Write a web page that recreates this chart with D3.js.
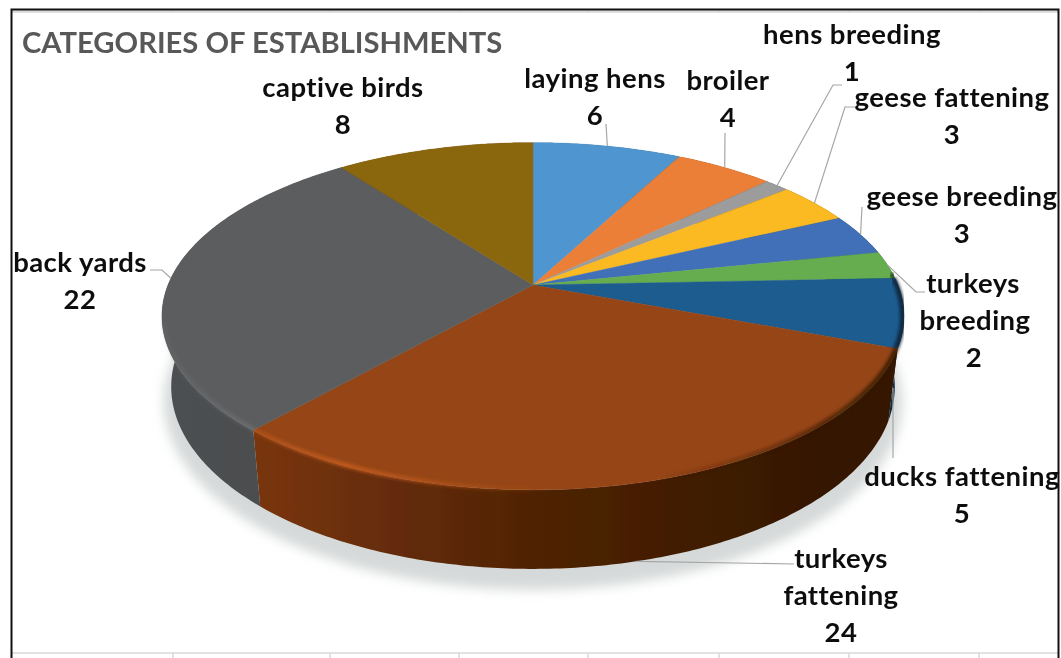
<!DOCTYPE html>
<html>
<head>
<meta charset="utf-8">
<script src="https://cdn.jsdelivr.net/npm/d3@7.9.0/dist/d3.min.js"></script>
<style>
  html, body { margin: 0; padding: 0; background: #fff; }
  svg { display: block; }
  text { font-family: Lato, "Open Sans", sans-serif; font-weight: 700; }
</style>
</head>
<body>
<svg id="chart" width="1061" height="658"></svg>
<script>
const categories = ['laying hens', 'broiler', 'hens breeding', 'geese fattening', 'geese breeding',
  'turkeys breeding', 'ducks fattening', 'turkeys fattening', 'back yards', 'captive birds'];
const counts = [6, 4, 1, 3, 3, 2, 5, 24, 22, 8];
const sliceColors = ['#5096d0', '#eb7f38', '#9c9c9c', '#fbb922', '#4270b8',
  '#66ad50', '#1d5c8e', '#954515', '#5c5d5f', '#8a660f'];
const wallColors = ['#5096d0', '#eb7f38', '#9c9c9c', '#fbb922', '#4270b8',
  '#66ad50', '#2a74b0', '#92400a', '#5a5e60', '#8a660f'];
const titleText = 'CATEGORIES OF ESTABLISHMENTS';
const cellEdges = [173, 330, 459, 588, 719, 849, 979];

// where the labels sit, by category
const labelLayout = {
  'laying hens': { lines: [[595, 'laying hens'], [595, '6']], y: 79 },
  'broiler': { lines: [[728, 'broiler'], [728, '4']], y: 81 },
  'hens breeding': { lines: [[852, 'hens breeding'], [852, '1']], y: 35 },
  'geese fattening': { lines: [[952, 'geese fattening'], [952, '3']], y: 98 },
  'geese breeding': { lines: [[962, 'geese breeding'], [962, '3']], y: 197 },
  'turkeys breeding': { lines: [[973, 'turkeys'], [975, 'breeding'], [974, '2']], y: 284 },
  'ducks fattening': { lines: [[962, 'ducks fattening'], [962, '5']], y: 477 },
  'turkeys fattening': { lines: [[841, 'turkeys'], [841, 'fattening'], [841, '24']], y: 559 },
  'back yards': { lines: [[80, 'back yards'], [80, '22']], y: 263 },
  'captive birds': { lines: [[343, 'captive birds'], [343, '8']], y: 88 }
};
const leaderLayout = {
  'laying hens': [[606, 124]],
  'broiler': [[725, 133]],
  'hens breeding': [[842, 85], [833, 85]],
  'geese fattening': [[855, 107], [845, 107]],
  'geese breeding': [[862, 207]],
  'turkeys breeding': [[925, 292], [916, 292]],
  'turkeys fattening': [[794, 564]],
  'back yards': [[150, 270], [162, 270]]
};

const svg = d3.select('#chart');
const defs = svg.append('defs');
const addBlur = (id, amount) => defs.append('filter').attr('id', id)
  .attr('x', '-10%').attr('y', '-10%').attr('width', '120%').attr('height', '120%')
  .append('feGaussianBlur').attr('stdDeviation', amount);
addBlur('soft', 0.45);
addBlur('textSoft', 0.35);
addBlur('rimBlur', 1.8);
addBlur('shadowBlur', 6);

// perspective of the pie disc
const hub = { x: 533, y: 285 };
const radius = { x: 365, y: 168 };
const tilt = 0.18, depth = 69, baseScale = 0.975;

const project = (angle, scale = 1, z = 0) => {
  const u = Math.sin(angle), v = Math.cos(angle);
  const w = 1 + tilt * v;
  return [
    hub.x + radius.x * scale * u / w,
    hub.y - radius.y * scale * v / w + z * depth / w
  ];
};
const arcPoints = (a0, a1, scale, z) => {
  const n = Math.max(2, Math.ceil((a1 - a0) / 0.012));
  return d3.range(n + 1).map(i => project(a0 + (a1 - a0) * i / n, scale, z));
};
const line = d3.line();

const pie = d3.pie().sort(null).value(d => d.count);
const slices = pie(categories.map((name, i) => ({ name, count: counts[i] })));
const color = d3.scaleOrdinal().domain(categories).range(sliceColors);

const shade = (c, f) => {
  const r = d3.rgb(c);
  return d3.rgb(r.r * f, r.g * f, r.b * f).formatHex();
};

// spreadsheet cell lines behind the chart
const cells = svg.append('g').attr('stroke', '#d9d9d9').attr('fill', 'none');
cells.append('line').attr('x1', 12).attr('x2', 1058).attr('y1', 11.5).attr('y2', 11.5).attr('stroke-width', 2.5);
cells.append('line').attr('x1', 12).attr('x2', 1058).attr('y1', 653).attr('y2', 653).attr('stroke-width', 1.5);
cells.selectAll('.tick').data(cellEdges).join('path').attr('class', 'tick')
  .attr('d', d => `M${d},653V658M${d},10V13`).attr('stroke-width', 1.5);

// frame
svg.append('path').attr('d', 'M11.5,658V9.5H1058.5V658').attr('fill', 'none').attr('stroke', '#111').attr('stroke-width', 2);

// title
svg.append('text').attr('x', 22).attr('y', 53).attr('font-size', 29.2).attr('fill', '#595959')
  .attr('filter', 'url(#textSoft)').text(titleText);

// shadow on the floor
svg.append('path')
  .attr('d', line(arcPoints(0, 2 * Math.PI, 0.995, 1.2)) + 'Z')
  .attr('fill', '#d6d9d9').attr('filter', 'url(#shadowBlur)');

const pieG = svg.append('g').attr('filter', 'url(#soft)');

// side wall, darkening from left to right
const wallStops = [[0, 0.84], [0.13, 0.83], [0.5, 0.55], [0.87, 0.37], [1, 0.36]];
slices.forEach((s, i) => {
  const g = defs.append('linearGradient').attr('id', 'wall' + i).attr('gradientUnits', 'userSpaceOnUse')
    .attr('x1', 160).attr('x2', 900).attr('y1', 0).attr('y2', 0);
  wallStops.forEach(([o, f]) => g.append('stop').attr('offset', o).attr('stop-color', shade(wallColors[i], f)));
});
pieG.selectAll('.wall').data(slices).join('path').attr('class', 'wall')
  .attr('d', d => {
    const top = arcPoints(d.startAngle, d.endAngle, 1, 0);
    const base = arcPoints(d.startAngle, d.endAngle, baseScale, 1).reverse();
    return line(top.concat(base)) + 'Z';
  })
  .attr('fill', (d, i) => `url(#wall${i})`);

// top face
pieG.selectAll('.face').data(slices).join('path').attr('class', 'face')
  .attr('d', d => line([[hub.x, hub.y]].concat(arcPoints(d.startAngle, d.endAngle, 1, 0))) + 'Z')
  .attr('fill', d => color(d.data.name))
  .attr('stroke', d => color(d.data.name)).attr('stroke-width', 0.4);

// bevel along the front rim: light on the left, dark on the right
const rimFrom = 1.5, rimTo = 4.5;
slices.forEach((s, i) => {
  const base = sliceColors[i];
  const g = defs.append('linearGradient').attr('id', 'rim' + i).attr('gradientUnits', 'userSpaceOnUse')
    .attr('x1', 160).attr('x2', 900).attr('y1', 0).attr('y2', 0);
  const light = d3.rgb(base).brighter(0.8).formatHex();
  const dark = shade(base, 0.35);
  g.append('stop').attr('offset', 0).attr('stop-color', light).attr('stop-opacity', 0.1);
  g.append('stop').attr('offset', 0.12).attr('stop-color', light).attr('stop-opacity', 0.4);
  g.append('stop').attr('offset', 0.25).attr('stop-color', light).attr('stop-opacity', 0.8);
  g.append('stop').attr('offset', 0.52).attr('stop-color', light).attr('stop-opacity', 0);
  g.append('stop').attr('offset', 0.68).attr('stop-color', dark).attr('stop-opacity', 0);
  g.append('stop').attr('offset', 1).attr('stop-color', dark).attr('stop-opacity', 0.9);
});
slices.forEach((s, i) => {
  const a0 = Math.max(s.startAngle, rimFrom), a1 = Math.min(s.endAngle, rimTo);
  if (a1 <= a0) return;
  svg.append('path')
    .attr('d', line(arcPoints(a0, a1, 0.996, 0)))
    .attr('fill', 'none')
    .attr('stroke', `url(#rim${i})`)
    .attr('stroke-width', 5)
    .attr('filter', 'url(#rimBlur)');
});

// leader lines
const leaders = svg.append('g').attr('fill', 'none').attr('stroke', '#a6a6a6').attr('stroke-width', 1.2);
slices.forEach(s => {
  const elbow = leaderLayout[s.data.name];
  if (!elbow) return;
  const mid = (s.startAngle + s.endAngle) / 2;
  const front = Math.cos(mid) < -0.5;
  leaders.append('path').attr('d', line(elbow.concat([project(mid, front ? baseScale : 1, front ? 1 : 0)])));
});
leaders.append('path').attr('d', line([[893, 388], [893, 458]]));

// labels
const labelG = svg.append('g').attr('fill', '#111').attr('font-size', 27.5)
  .attr('letter-spacing', 0.45).attr('text-anchor', 'middle').attr('filter', 'url(#textSoft)');
categories.forEach(name => {
  const l = labelLayout[name];
  l.lines.forEach(([x, t], i) => {
    labelG.append('text').attr('x', x).attr('y', l.y + 37 * i + 9).text(t);
  });
});
</script>
</body>
</html>
